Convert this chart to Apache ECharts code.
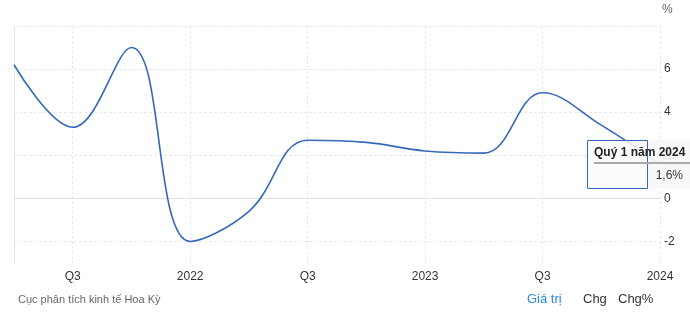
<!DOCTYPE html>
<html>
<head>
<meta charset="utf-8">
<script src="https://cdn.jsdelivr.net/npm/echarts@6/dist/echarts.min.js"></script>
<style>
html,body{margin:0;padding:0;background:#fff;}
#c{width:690px;height:318px;}
</style>
</head>
<body>
<div id="c"></div>
<script>
const categories = ['Quý 2 năm 2021','Quý 3 năm 2021','Quý 4 năm 2021','Quý 1 năm 2022','Quý 2 năm 2022','Quý 3 năm 2022','Quý 4 năm 2022','Quý 1 năm 2023','Quý 2 năm 2023','Quý 3 năm 2023','Quý 4 năm 2023','Quý 1 năm 2024'];
const values = [6.2, 3.3, 7.0, -2.0, -0.6, 2.7, 2.6, 2.2, 2.1, 4.9, 3.4, 1.6];
const xTickLabels = ['', 'Q3', '', '2022', '', 'Q3', '', '2023', '', 'Q3', '', '2024'];
const yTickLabels = [-2, 0, 2, 4, 6];
const sourceText = 'Cục phân tích kinh tế Hoa Kỳ';
const buttons = ['Giá trị', 'Chg', 'Chg%'];

const chart = echarts.init(document.getElementById('c'), null, {renderer: 'canvas'});
const FONT = '"Liberation Sans", Arial, sans-serif';
const lastIdx = values.length - 1;
const tipTitle = categories[lastIdx];
const tipValue = String(values[lastIdx]).replace('.', ',') + '%';

chart.setOption({
  animation: false,
  grid: {left: 14, right: 30, top: 26, bottom: 55},
  xAxis: {
    type: 'category',
    data: categories,
    boundaryGap: false,
    axisLine: {show: true, lineStyle: {color: '#e0e0e0'}},
    axisTick: {show: false},
    axisLabel: {
      interval: 0,
      formatter: (v, i) => xTickLabels[i],
      color: '#333', fontFamily: FONT, fontSize: 12, margin: 8
    },
    splitLine: {
      show: true,
      interval: (i) => xTickLabels[i] !== '',
      lineStyle: {color: '#e9e9e9', type: [3, 2]}
    }
  },
  yAxis: {
    type: 'value',
    position: 'right',
    min: -3, max: 8, interval: 1,
    axisLine: {show: false},
    axisTick: {show: false},
    axisLabel: {
      formatter: v => yTickLabels.indexOf(v) >= 0 ? String(v) : '',
      color: '#333', fontFamily: FONT, fontSize: 12, margin: 4
    },
    splitLine: {
      show: true,
      lineStyle: {color: ['rgba(0,0,0,0)', '#e9e9e9'], type: [3, 2]}
    }
  },
  series: [{
    type: 'line',
    data: values,
    smooth: 0.4,
    symbol: 'none',
    lineStyle: {color: '#3569b8', width: 1.6}
  }],
  graphic: [
    {type: 'line', shape: {x1: 14.5, y1: 26, x2: 14.5, y2: 263}, style: {stroke: '#e6e6e6', lineWidth: 1}},
    {type: 'text', left: 662, top: 4, style: {text: '%', fill: '#666', font: '12px ' + FONT}},
    {type: 'text', left: 18, top: 294, style: {text: sourceText, fill: '#666', font: '11px ' + FONT}},
    {type: 'text', left: 527, top: 293, style: {text: buttons[0], fill: '#2a8ae6', font: '13px ' + FONT}},
    {type: 'text', left: 583, top: 293, style: {text: buttons[1], fill: '#333', font: '13px ' + FONT}},
    {type: 'text', left: 618, top: 293, style: {text: buttons[2], fill: '#333', font: '13px ' + FONT}},
    {type: 'rect', z: 100, shape: {x: 647, y: 140, width: 43, height: 49}, style: {fill: 'rgba(247,247,247,0.92)'}},
    {type: 'rect', z: 101, shape: {x: 587.5, y: 140.5, width: 60, height: 48}, style: {fill: 'rgba(250,250,250,0.85)', stroke: '#3569b8', lineWidth: 1}},
    {type: 'text', z: 102, x: 594, y: 153, style: {text: tipTitle, fill: '#222', font: 'bold 12px ' + FONT, verticalAlign: 'middle'}},
    {type: 'line', z: 102, shape: {x1: 594, y1: 163, x2: 690, y2: 163}, style: {stroke: '#aaa', lineWidth: 2}},
    {type: 'text', z: 102, x: 683, y: 176, style: {text: tipValue, fill: '#333', font: '12px ' + FONT, align: 'right', verticalAlign: 'middle'}}
  ]
});
</script>
</body>
</html>
